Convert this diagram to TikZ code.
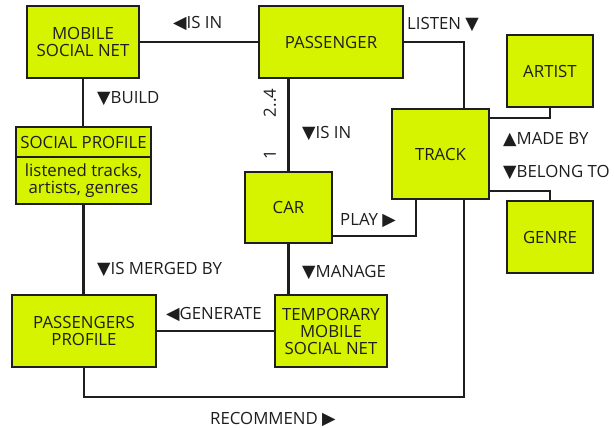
\documentclass[tikz,border=0pt]{standalone}
\usepackage{fontspec}
\setmainfont{Open Sans}
\newfontfamily\symfont{DejaVu Sans}
\newcommand\tdn{{\symfont\fontsize{17.5}{17.5}\selectfont ▼}}
\newcommand\tup{{\symfont\fontsize{17.5}{17.5}\selectfont ▲}}
\newcommand\tlt{{\symfont\fontsize{17.5}{17.5}\selectfont ◀}}
\newcommand\trt{{\symfont\fontsize{17.5}{17.5}\selectfont ▶}}
\definecolor{boxfill}{RGB}{214,243,0}
\definecolor{ink}{RGB}{30,30,30}
\begin{document}
\begin{tikzpicture}[x=1pt,y=-1pt,
  ent/.style={draw=ink,line width=1.6pt,fill=boxfill,inner sep=0pt,align=center,
    font=\fontsize{16.8}{17}\selectfont,text=ink},
  conn/.style={draw=ink,line width=2.4pt},
  lbl/.style={font=\fontsize{16.8}{17}\selectfont,text=ink,inner sep=0pt},
  lbll/.style={lbl,anchor=base west}]
\useasboundingbox[fill=white] (0,0) rectangle (614,428);
\node[ent,minimum width=112pt,minimum height=72pt] (msn) at (83,42) {MOBILE\\SOCIAL NET};
\node[ent,minimum width=144pt,minimum height=72pt] (passenger) at (331,42) {PASSENGER};
\node[ent,minimum width=86pt,minimum height=72pt] (artist) at (550,71) {ARTIST};
\node[ent,minimum width=97pt,minimum height=90pt] (track) at (440.5,154) {TRACK};
\node[ent,minimum width=86pt,minimum height=72pt] (genre) at (550,237) {GENRE};
\node[ent,minimum width=135pt,minimum height=30pt] (sptop) at (83.5,142) {SOCIAL PROFILE};
\node[ent,minimum width=135pt,minimum height=47pt] (spbot) at (83.5,180.5) {listened tracks,\\artists, genres};
\node[ent,minimum width=87pt,minimum height=71pt] (car) at (288.5,207.5) {CAR};
\node[ent,minimum width=144pt,minimum height=72pt] (pp) at (84,331) {PASSENGERS\\PROFILE};
\node[ent,minimum width=112pt,minimum height=72pt] (temp) at (331,331) {TEMPORARY\\MOBILE\\SOCIAL NET};
\coordinate (rec) at (270,397);
\draw[conn] (msn.east) -- (passenger.west);
\draw[conn] (msn.south) -- (msn.south |- sptop.north);
\draw[conn] (spbot.south) -- (spbot.south |- pp.north);
\draw[conn] (car.north) -- (car.north |- passenger.south);
\draw[conn] (passenger.east) -| ([xshift=23.5pt]track.north);
\draw[conn] ([yshift=36pt]track.east) -| (artist.south);
\draw[conn] ([yshift=-37pt]track.east) -| (genre.north);
\draw[conn] ([yshift=-28.5pt]car.east) -| ([xshift=-24.5pt]track.south);
\draw[conn] (car.south) -- (car.south |- temp.north);
\draw[conn] (temp.west) -- (pp.east);
\draw[conn] ([xshift=23.5pt]track.south) |- (rec) -| (pp.south);
% redraw boxes on top of connector ends
\node[ent,minimum width=112pt,minimum height=72pt] at (83,42) {MOBILE\\SOCIAL NET};
\node[ent,minimum width=144pt,minimum height=72pt] at (331,42) {PASSENGER};
\node[ent,minimum width=86pt,minimum height=72pt] at (550,71) {ARTIST};
\node[ent,minimum width=97pt,minimum height=90pt] at (440.5,154) {TRACK};
\node[ent,minimum width=86pt,minimum height=72pt] at (550,237) {GENRE};
\node[ent,minimum width=135pt,minimum height=30pt] at (83.5,142) {SOCIAL PROFILE};
\node[ent,minimum width=135pt,minimum height=47pt] at (83.5,180.5) {listened tracks,\\artists, genres};
\node[ent,minimum width=87pt,minimum height=71pt] at (288.5,207.5) {CAR};
\node[ent,minimum width=144pt,minimum height=72pt] at (84,331) {PASSENGERS\\PROFILE};
\node[ent,minimum width=112pt,minimum height=72pt] at (331,331) {TEMPORARY\\MOBILE\\SOCIAL NET};
% labels
\node[lbll] (l1) at (173,29) {\tlt IS IN};
\node[lbll] (l2) at (97,103) {\tdn BUILD};
\node[lbl,rotate=90] (l3) at (270,103) {2..4};
\node[lbl,rotate=90] (l4) at (270,155) {1};
\node[lbll] (l5) at (302,139) {\tdn IS IN};
\node[lbll] (l6) at (407,30) {LISTEN \tdn};
\node[lbll] (l7) at (503,144) {\tup MADE BY};
\node[lbll] (l8) at (503,178) {\tdn BELONG TO};
\node[lbll] (l9) at (340,225) {PLAY \trt};
\node[lbll] (l10) at (302,277) {\tdn MANAGE};
\node[lbll] (l11) at (97,274) {\tdn IS MERGED BY};
\node[lbll] (l12) at (166,319) {\tlt GENERATE};
\node[lbll] (l13) at (210,424) {RECOMMEND \trt};
\end{tikzpicture}
\end{document}
